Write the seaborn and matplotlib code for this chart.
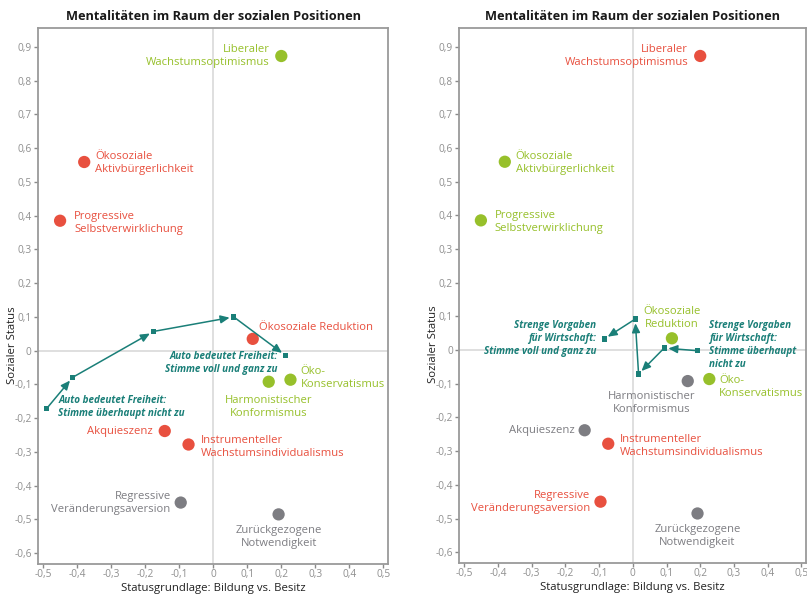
import matplotlib
matplotlib.use("Agg")
import matplotlib.pyplot as plt
import seaborn as sns
import pandas as pd
from matplotlib.ticker import FuncFormatter, MultipleLocator

# ---------------- data ----------------
names_left = ["Liberaler\nWachstumsoptimismus", "Ökosoziale\nAktivbürgerlichkeit",
              "Progressive\nSelbstverwirklichung", "Ökosoziale Reduktion",
              "Harmonistischer\nKonformismus", "Öko-\nKonservatismus", "Akquieszenz",
              "Instrumenteller\nWachstumsindividualismus", "Regressive\nVeränderungsaversion",
              "Zurückgezogene\nNotwendigkeit"]
names_right = ["Liberaler\nWachstumsoptimismus", "Ökosoziale\nAktivbürgerlichkeit",
               "Progressive\nSelbstverwirklichung", "Ökosoziale\nReduktion",
               "Harmonistischer\nKonformismus", "Öko-\nKonservatismus", "Akquieszenz",
               "Instrumenteller\nWachstumsindividualismus", "Regressive\nVeränderungsaversion",
               "Zurückgezogene\nNotwendigkeit"]
x_vals = [0.200, -0.380, -0.451, 0.116, 0.163, 0.227, -0.143, -0.073, -0.096, 0.192]
y_vals = [0.873, 0.559, 0.385, 0.035, -0.092, -0.086, -0.238, -0.278, -0.450, -0.485]
groups_left = ["gruen", "rot", "rot", "rot", "gruen", "gruen", "rot", "rot", "grau", "grau"]
groups_right = ["rot", "gruen", "gruen", "gruen", "grau", "gruen", "grau", "rot", "rot", "grau"]

auto_x = [-0.491, -0.414, -0.176, 0.060, 0.212]
auto_y = [-0.172, -0.079, 0.057, 0.100, -0.014]
vorg_x = [0.193, 0.093, 0.017, 0.007, -0.085]
vorg_y = [-0.002, 0.006, -0.071, 0.092, 0.033]

title = "Mentalitäten im Raum der sozialen Positionen"
xlabel = "Statusgrundlage: Bildung vs. Besitz"
ylabel = "Sozialer Status"

# ---------------- style ----------------
sns.set_theme(style="white")
FONT = ["Open Sans", "DejaVu Sans"]
plt.rcParams["font.family"] = FONT

RED = "#E8503F"
GREEN = "#97C02B"
GRAY = "#7D7D82"
TEAL = "#1A7F78"
palette = {"rot": RED, "gruen": GREEN, "grau": GRAY}

# label layout: (ha, dx_px, dy_px)
lay_left = [("right", -12, 0), ("left", 11, -1), ("left", 14, -2), ("left", 6, 11),
            ("center", 0, -25), ("left", 10, 2), ("right", -12, 0), ("left", 12, -2),
            ("right", -10, 0), ("center", 0, -23)]
lay_right = [("right", -12, 0), ("left", 11, -1), ("left", 14, -2), ("center", 0, 20),
             ("center", -36, -22), ("left", 10, -8), ("right", -10, 0), ("left", 12, -2),
             ("right", -10, 0), ("center", 0, -23)]

fig = plt.figure(figsize=(8.07, 5.97), dpi=100)
ax1 = fig.add_axes([38 / 807, 1 - 564 / 597, 350 / 807, 536 / 597])
ax2 = fig.add_axes([459 / 807, 1 - 563 / 597, 347 / 807, 535 / 597])

fmt = FuncFormatter(lambda v, p: "0" if abs(v) < 1e-9 else f"{v:.1f}".replace(".", ","))
PX = 0.72  # px -> points


def draw_panel(ax, names, groups, layout, path_x, path_y):
    df = pd.DataFrame({"x": x_vals, "y": y_vals, "g": groups, "name": names})
    ax.axhline(0, color="#D9D9D9", lw=1.2, zorder=0)
    ax.axvline(0, color="#D9D9D9", lw=1.2, zorder=0)
    sns.scatterplot(data=df, x="x", y="y", hue="g", palette=palette, s=78,
                    edgecolor="none", legend=False, ax=ax, zorder=3)
    for i, row in df.iterrows():
        ha, dx, dy = layout[i]
        ax.annotate(row["name"], (row["x"], row["y"]), xytext=(dx * PX, dy * PX),
                    textcoords="offset points", ha=ha, va="center",
                    color=palette[row["g"]], fontsize=8.1, linespacing=1.25,
                    multialignment=ha)
    # path
    pdf = pd.DataFrame({"x": path_x, "y": path_y})
    sns.scatterplot(data=pdf, x="x", y="y", marker="s", s=14, color=TEAL,
                    edgecolor="none", ax=ax, zorder=4, legend=False)
    for k in range(len(path_x) - 1):
        ax.annotate("", xy=(path_x[k + 1], path_y[k + 1]), xytext=(path_x[k], path_y[k]),
                    arrowprops=dict(arrowstyle="-|>,head_length=0.45,head_width=0.2",
                                    color=TEAL, lw=1.1, shrinkA=0, shrinkB=3),
                    zorder=4)

    ax.set_xlim(-0.516, 0.514)
    ax.set_ylim(-0.632, 0.956)
    ax.xaxis.set_major_locator(MultipleLocator(0.1))
    ax.yaxis.set_major_locator(MultipleLocator(0.1))
    ax.xaxis.set_major_formatter(fmt)
    ax.yaxis.set_major_formatter(fmt)
    ax.tick_params(axis="both", which="major", length=3, width=1, color="#8A8A8A",
                   labelcolor="#8F8F8F", labelsize=7.3, bottom=True, left=True)
    ax.tick_params(axis="x", pad=0.5)
    ax.tick_params(axis="y", pad=1.5)
    for s in ax.spines.values():
        s.set_color("#9A9A9A")
        s.set_linewidth(1.3)
    ax.set_xlabel(xlabel, fontsize=8.2, color="#222222")
    ax.set_ylabel(ylabel, fontsize=8.2, color="#222222")
    pos = ax.get_position()
    w_px = pos.width * 807
    h_px = pos.height * 597
    ax.xaxis.set_label_coords(0.5, -19 / h_px)
    ax.yaxis.set_label_coords(-20 / w_px, 219 / h_px)
    ax.set_title(title, fontsize=9.2, fontweight="bold", color="#1A1A1A", pad=6)


draw_panel(ax1, names_left, groups_left, lay_left, auto_x, auto_y)
draw_panel(ax2, names_right, groups_right, lay_right, vorg_x, vorg_y)

ann = dict(color=TEAL, fontsize=7.1, fontweight="bold", fontstyle="italic", linespacing=1.25)
# left panel annotations
ax1.annotate("Auto bedeutet Freiheit:\nStimme überhaupt nicht zu", (auto_x[0], auto_y[0]),
             xytext=(12 * PX, 2 * PX), textcoords="offset points", ha="left", va="center", **ann)
ax1.annotate("Auto bedeutet Freiheit:\nStimme voll und ganz zu", (auto_x[-1], auto_y[-1]),
             xytext=(-8 * PX, -8 * PX), textcoords="offset points", ha="right", va="center",
             multialignment="right", **ann)
# right panel annotations
ax2.annotate("Strenge Vorgaben\nfür Wirtschaft:\nStimme voll und ganz zu", (vorg_x[-1], vorg_y[-1]),
             xytext=(-8 * PX, 0), textcoords="offset points", ha="right", va="center",
             multialignment="right", **ann)
ax2.annotate("Strenge Vorgaben\nfür Wirtschaft:\nStimme überhaupt\nnicht zu", (vorg_x[0], vorg_y[0]),
             xytext=(11 * PX, 6 * PX), textcoords="offset points", ha="left", va="center", **ann)

fig.savefig("out.png", dpi=100)
